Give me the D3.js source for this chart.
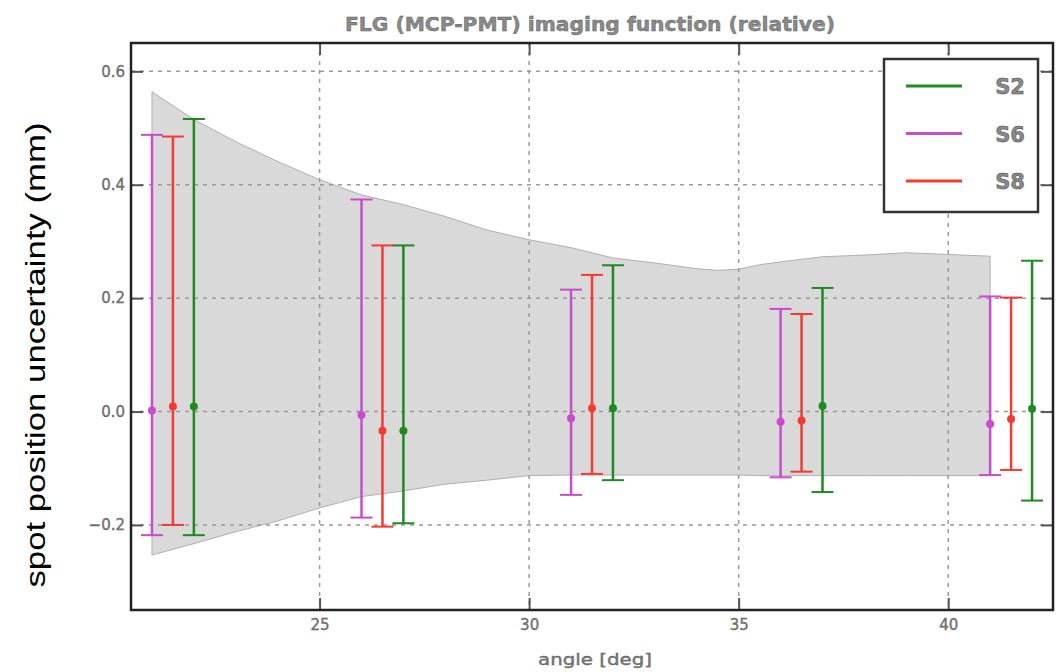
<!DOCTYPE html>
<html>
<head>
<meta charset="utf-8">
<script src="https://cdnjs.cloudflare.com/ajax/libs/d3/7.8.5/d3.min.js"></script>
<style>
  body { margin: 0; background: #fff; }
  svg { display: block; }
  .tick-label { font-family: "DejaVu Sans", sans-serif; font-size: 15px; fill: #7a7a7a; stroke: #555; stroke-width: 0.35; }
</style>
</head>
<body>
<svg width="1063" height="672"></svg>
<script>
// series: angle, central value, lower / upper ends of the error bar
const s2Angle = [22, 27, 32, 37, 42];
const s2Mid   = [0.009, -0.034, 0.006, 0.010, 0.005];
const s2Low   = [-0.218, -0.197, -0.121, -0.142, -0.157];
const s2High  = [0.516, 0.293, 0.258, 0.218, 0.266];

const s6Angle = [21, 26, 31, 36, 41];
const s6Mid   = [0.002, -0.006, -0.012, -0.018, -0.022];
const s6Low   = [-0.218, -0.187, -0.147, -0.116, -0.112];
const s6High  = [0.488, 0.374, 0.215, 0.181, 0.203];

const s8Angle = [21.5, 26.5, 31.5, 36.5, 41.5];
const s8Mid   = [0.009, -0.034, 0.006, -0.016, -0.013];
const s8Low   = [-0.200, -0.203, -0.110, -0.106, -0.103];
const s8High  = [0.485, 0.293, 0.241, 0.172, 0.201];

// grey band (imaging function envelope)
const bandAngle = [21, 22, 23, 24, 25, 26, 27, 28, 29, 30, 31, 32, 33, 34, 34.5, 35, 35.5, 36, 37, 38, 39, 40, 41];
const bandHigh  = [0.564, 0.515, 0.476, 0.441, 0.409, 0.382, 0.365, 0.344, 0.320, 0.303, 0.289, 0.271, 0.262, 0.252, 0.249, 0.251, 0.259, 0.264, 0.273, 0.276, 0.280, 0.277, 0.274];
const bandLow   = [-0.253, -0.233, -0.212, -0.193, -0.170, -0.150, -0.140, -0.128, -0.121, -0.113, -0.112, -0.112, -0.112, -0.112, -0.112, -0.112, -0.113, -0.113, -0.113, -0.113, -0.113, -0.113, -0.113];

const xTicks = [25, 30, 35, 40];
const yTicks = [-0.2, 0.0, 0.2, 0.4, 0.6];

const series = [
  {name: 'S2', color: '#1f8a1f', angle: s2Angle, mid: s2Mid, low: s2Low, high: s2High},
  {name: 'S6', color: '#c94ccf', angle: s6Angle, mid: s6Mid, low: s6Low, high: s6High},
  {name: 'S8', color: '#f43a33', angle: s8Angle, mid: s8Mid, low: s8Low, high: s8High}
];

const svg = d3.select('svg');
const L = 131, R = 1053, T = 43, B = 610;

const x = d3.scaleLinear().domain([20.5, 42.5]).range([L, R]);
const y = d3.scaleLinear().domain([-0.35, 0.65]).range([B, T]);

// band
const band = bandAngle.map((a, i) => ({a: a, lo: bandLow[i], hi: bandHigh[i]}));
svg.append('path')
  .datum(band)
  .attr('d', d3.area().x(d => x(d.a)).y0(d => y(d.lo)).y1(d => y(d.hi)))
  .attr('fill', '#d9d9d9')
  .attr('stroke', '#b0b0b0')
  .attr('stroke-width', 1);

// grid
const grid = svg.append('g').attr('stroke', '#999').attr('stroke-width', 1.5).attr('stroke-dasharray', '4,5');
grid.selectAll('.gx').data(xTicks).enter().append('line')
  .attr('x1', d => x(d)).attr('x2', d => x(d)).attr('y1', T).attr('y2', B);
grid.selectAll('.gy').data(yTicks).enter().append('line')
  .attr('x1', L).attr('x2', R).attr('y1', d => y(d)).attr('y2', d => y(d));

// error bars
series.forEach(s => {
  const pts = s.angle.map((a, i) => ({a: a, m: s.mid[i], lo: s.low[i], hi: s.high[i]}));
  const g = svg.append('g').attr('stroke', s.color).attr('fill', s.color);
  g.selectAll('.v').data(pts).enter().append('line')
    .attr('x1', d => x(d.a)).attr('x2', d => x(d.a))
    .attr('y1', d => y(d.lo)).attr('y2', d => y(d.hi))
    .attr('stroke-width', 2.5);
  g.selectAll('.ct').data(pts).enter().append('line')
    .attr('x1', d => x(d.a) - 11).attr('x2', d => x(d.a) + 11)
    .attr('y1', d => y(d.hi)).attr('y2', d => y(d.hi))
    .attr('stroke-width', 2);
  g.selectAll('.cb').data(pts).enter().append('line')
    .attr('x1', d => x(d.a) - 11).attr('x2', d => x(d.a) + 11)
    .attr('y1', d => y(d.lo)).attr('y2', d => y(d.lo))
    .attr('stroke-width', 2);
  g.selectAll('circle').data(pts).enter().append('circle')
    .attr('cx', d => x(d.a)).attr('cy', d => y(d.m)).attr('r', 4)
    .attr('stroke', 'none');
});

// axes with inward ticks on all sides
const tickLen = 12;
const fmt = d => d < 0 ? '\u2212' + Math.abs(d).toFixed(1) : d.toFixed(1);
svg.append('g').attr('transform', `translate(0,${B})`)
  .call(d3.axisBottom(x).tickValues(xTicks).tickSize(-tickLen).tickPadding(9).tickFormat(d3.format('d')))
  .call(g => g.select('.domain').remove());
svg.append('g').attr('transform', `translate(0,${T})`)
  .call(d3.axisTop(x).tickValues(xTicks).tickSize(-tickLen).tickFormat(''))
  .call(g => g.select('.domain').remove());
svg.append('g').attr('transform', `translate(${L},0)`)
  .call(d3.axisLeft(y).tickValues(yTicks).tickSize(-tickLen).tickPadding(6).tickFormat(fmt))
  .call(g => g.select('.domain').remove());
svg.append('g').attr('transform', `translate(${R},0)`)
  .call(d3.axisRight(y).tickValues(yTicks).tickSize(-tickLen).tickFormat(''))
  .call(g => g.select('.domain').remove());
svg.selectAll('.tick line').attr('stroke', '#555').attr('stroke-width', 2);
svg.selectAll('.tick text').attr('class', 'tick-label');

// frame
svg.append('rect').attr('x', L).attr('y', T).attr('width', R - L).attr('height', B - T)
  .attr('fill', 'none').attr('stroke', '#222').attr('stroke-width', 2.5);

// title and labels
svg.append('text').attr('x', 590).attr('y', 31).attr('text-anchor', 'middle')
  .attr('font-family', 'DejaVu Sans, sans-serif').attr('font-size', 19).attr('font-weight', 'bold')
  .attr('fill', '#8a8a8a').attr('stroke', '#555').attr('stroke-width', 0.4)
  .attr('textLength', 490).attr('lengthAdjust', 'spacingAndGlyphs')
  .text('FLG (MCP-PMT) imaging function (relative)');

svg.append('text').attr('x', 595).attr('y', 665).attr('text-anchor', 'middle')
  .attr('font-family', 'DejaVu Sans, sans-serif').attr('font-size', 16)
  .attr('fill', '#7a7a7a').attr('stroke', '#555').attr('stroke-width', 0.35)
  .attr('textLength', 114).attr('lengthAdjust', 'spacingAndGlyphs')
  .text('angle [deg]');

svg.append('text').attr('transform', 'translate(45,355) rotate(-90)').attr('text-anchor', 'middle')
  .attr('font-family', 'Liberation Sans, Arial, sans-serif').attr('font-size', 27).attr('fill', '#000')
  .attr('textLength', 465).attr('lengthAdjust', 'spacingAndGlyphs')
  .text('spot position uncertainty (mm)');

// legend
const lg = svg.append('g');
lg.append('rect').attr('x', 884).attr('y', 59).attr('width', 154).attr('height', 153)
  .attr('fill', '#fff').attr('stroke', '#333').attr('stroke-width', 2.5);
lg.selectAll('.item').data(series).enter().append('g')
  .each(function (s, i) {
    const g = d3.select(this);
    const yy = 86 + i * 47.5;
    g.append('line').attr('x1', 906).attr('x2', 962).attr('y1', yy).attr('y2', yy)
      .attr('stroke', s.color).attr('stroke-width', 3);
    g.append('text').attr('x', 1025).attr('y', yy + 8).attr('text-anchor', 'end')
      .attr('font-family', 'DejaVu Sans, sans-serif').attr('font-size', 21).attr('font-weight', 'bold')
      .attr('fill', '#8a8a8a').attr('stroke', '#444').attr('stroke-width', 0.5)
      .text(s.name);
  });
</script>
</body>
</html>
